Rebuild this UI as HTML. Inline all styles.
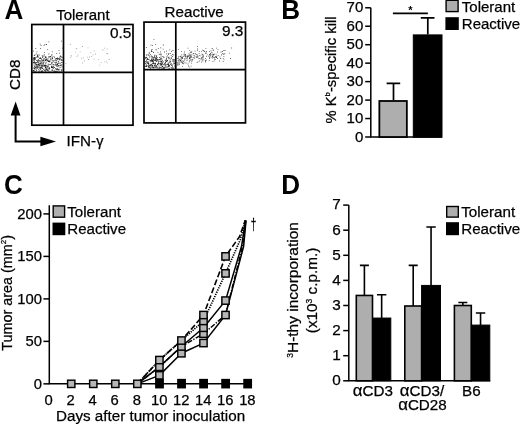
<!DOCTYPE html>
<html><head><meta charset="utf-8"><title>Figure</title>
<style>
html,body{margin:0;padding:0;background:#fff;}
body{width:520px;height:424px;overflow:hidden;}
svg{display:block;font-family:"Liberation Sans",sans-serif;fill:#000;}
.t{font-size:14.4px;stroke:#000;stroke-width:0.25px;}
.b{font-size:27px;font-weight:bold;fill:#000;}
.ln{stroke:#000;fill:none;}
.g{fill:#aeaeae;stroke:#000;}
.k{fill:#000;stroke:#000;}
</style></head><body>
<svg width="520" height="424" viewBox="0 0 520 424">
<rect x="0" y="0" width="520" height="424" fill="#fff" stroke="none"/>

<text class="b" transform="translate(4.4,19) scale(0.965,1)">A</text>
<text class="t" x="56.2" y="20.2" style="font-size:15px">Tolerant</text>
<text class="t" x="164.6" y="16.8" style="font-size:15.2px">Reactive</text>
<g class="ln" stroke-width="1.7">
<rect x="31.8" y="24.5" width="101.2" height="100.7"/>
<line x1="63.5" y1="24.5" x2="63.5" y2="125"/>
<line x1="31.8" y1="72.4" x2="133" y2="72.4"/>
<rect x="144" y="22.1" width="101.5" height="100.8"/>
<line x1="175.8" y1="22.1" x2="175.8" y2="122.9"/>
<line x1="144" y1="69.6" x2="245.5" y2="69.6"/>
</g>
<text class="t" x="109.9" y="38.3" style="font-size:15.4px">0.5</text>
<text class="t" x="222" y="35.8" style="font-size:15.4px">9.3</text>
<path d="M42.4 65.9h0.8v0.8h-0.8zM48.7 56.9h0.8v0.8h-0.8zM34.0 57.1h0.8v0.8h-0.8zM45.4 65.4h0.8v0.8h-0.8zM60.8 65.5h0.8v0.8h-0.8zM61.6 69.0h0.8v0.8h-0.8zM37.1 60.7h0.8v0.8h-0.8zM38.2 64.1h0.8v0.8h-0.8zM34.7 59.1h0.8v0.8h-0.8zM45.5 64.9h0.8v0.8h-0.8zM41.7 62.7h0.8v0.8h-0.8zM40.1 48.0h0.8v0.8h-0.8zM41.4 67.5h0.8v0.8h-0.8zM45.2 63.5h0.8v0.8h-0.8zM52.5 60.3h0.8v0.8h-0.8zM49.9 56.4h0.8v0.8h-0.8zM52.4 66.7h0.8v0.8h-0.8zM62.1 47.8h0.8v0.8h-0.8zM44.2 58.5h0.8v0.8h-0.8zM36.3 67.7h0.8v0.8h-0.8zM40.2 69.2h0.8v0.8h-0.8zM46.1 69.4h0.8v0.8h-0.8zM57.0 69.1h0.8v0.8h-0.8zM58.9 59.5h0.8v0.8h-0.8zM38.1 59.5h0.8v0.8h-0.8zM50.2 56.1h0.8v0.8h-0.8zM43.8 54.3h0.8v0.8h-0.8zM51.1 66.1h0.8v0.8h-0.8zM59.3 56.7h0.8v0.8h-0.8zM44.6 65.6h0.8v0.8h-0.8zM34.9 58.5h0.8v0.8h-0.8zM34.4 58.3h0.8v0.8h-0.8zM43.6 69.3h0.8v0.8h-0.8zM37.3 61.3h0.8v0.8h-0.8zM46.6 66.6h0.8v0.8h-0.8zM40.7 68.5h0.8v0.8h-0.8zM33.6 64.8h0.8v0.8h-0.8zM33.7 70.1h0.8v0.8h-0.8zM58.3 70.4h0.8v0.8h-0.8zM58.0 63.3h0.8v0.8h-0.8zM48.1 56.4h0.8v0.8h-0.8zM41.1 66.5h0.8v0.8h-0.8zM61.0 59.4h0.8v0.8h-0.8zM38.7 65.5h0.8v0.8h-0.8zM57.6 59.4h0.8v0.8h-0.8zM55.0 62.4h0.8v0.8h-0.8zM56.4 52.9h0.8v0.8h-0.8zM44.7 70.1h0.8v0.8h-0.8zM37.3 64.3h0.8v0.8h-0.8zM37.2 54.5h0.8v0.8h-0.8zM45.7 67.6h0.8v0.8h-0.8zM41.5 64.9h0.8v0.8h-0.8zM45.2 69.8h0.8v0.8h-0.8zM45.3 57.0h0.8v0.8h-0.8zM33.4 58.8h0.8v0.8h-0.8zM49.3 63.9h0.8v0.8h-0.8zM56.0 64.5h0.8v0.8h-0.8zM41.0 71.1h0.8v0.8h-0.8zM49.4 60.6h0.8v0.8h-0.8zM47.8 64.7h0.8v0.8h-0.8zM46.2 44.1h0.8v0.8h-0.8zM58.7 67.4h0.8v0.8h-0.8zM49.3 67.9h0.8v0.8h-0.8zM45.9 59.7h0.8v0.8h-0.8zM37.4 67.8h0.8v0.8h-0.8zM61.3 70.5h0.8v0.8h-0.8zM47.2 65.8h0.8v0.8h-0.8zM37.6 63.8h0.8v0.8h-0.8zM38.7 67.0h0.8v0.8h-0.8zM49.2 56.3h0.8v0.8h-0.8zM61.5 60.0h0.8v0.8h-0.8zM55.8 58.0h0.8v0.8h-0.8zM59.7 58.1h0.8v0.8h-0.8zM37.3 55.1h0.8v0.8h-0.8zM34.6 63.5h0.8v0.8h-0.8zM35.0 57.5h0.8v0.8h-0.8zM58.1 69.1h0.8v0.8h-0.8zM42.9 55.7h0.8v0.8h-0.8zM40.8 64.0h0.8v0.8h-0.8zM36.1 56.8h0.8v0.8h-0.8zM42.1 67.5h0.8v0.8h-0.8zM47.6 61.3h0.8v0.8h-0.8zM40.3 67.1h0.8v0.8h-0.8zM38.5 66.2h0.8v0.8h-0.8zM45.6 69.0h0.8v0.8h-0.8zM44.5 58.7h0.8v0.8h-0.8zM44.8 56.8h0.8v0.8h-0.8zM35.0 71.0h0.8v0.8h-0.8zM41.2 60.5h0.8v0.8h-0.8zM37.5 60.0h0.8v0.8h-0.8zM61.5 70.2h0.8v0.8h-0.8zM43.4 61.8h0.8v0.8h-0.8zM47.7 63.7h0.8v0.8h-0.8zM40.7 62.1h0.8v0.8h-0.8zM33.6 59.5h0.8v0.8h-0.8zM48.5 41.4h0.8v0.8h-0.8zM37.3 64.7h0.8v0.8h-0.8zM34.2 58.6h0.8v0.8h-0.8zM56.8 64.0h0.8v0.8h-0.8zM50.1 64.0h0.8v0.8h-0.8zM33.8 61.5h0.8v0.8h-0.8zM54.9 71.1h0.8v0.8h-0.8zM52.3 67.2h0.8v0.8h-0.8zM35.1 67.1h0.8v0.8h-0.8zM54.7 59.9h0.8v0.8h-0.8zM53.0 70.8h0.8v0.8h-0.8zM51.8 58.2h0.8v0.8h-0.8zM54.8 64.6h0.8v0.8h-0.8zM34.7 66.2h0.8v0.8h-0.8zM52.8 63.9h0.8v0.8h-0.8zM46.6 69.6h0.8v0.8h-0.8zM61.4 60.1h0.8v0.8h-0.8zM60.7 64.8h0.8v0.8h-0.8zM48.3 69.8h0.8v0.8h-0.8zM57.0 57.6h0.8v0.8h-0.8zM59.3 59.5h0.8v0.8h-0.8zM33.0 61.9h0.8v0.8h-0.8zM43.0 68.8h0.8v0.8h-0.8zM55.0 68.2h0.8v0.8h-0.8zM60.1 63.4h0.8v0.8h-0.8zM44.5 65.7h0.8v0.8h-0.8zM43.5 60.2h0.8v0.8h-0.8zM35.9 65.2h0.8v0.8h-0.8zM40.7 44.9h0.8v0.8h-0.8zM43.9 55.5h0.8v0.8h-0.8zM54.1 67.1h0.8v0.8h-0.8zM36.6 67.6h0.8v0.8h-0.8zM41.7 62.4h0.8v0.8h-0.8zM41.7 69.9h0.8v0.8h-0.8zM37.8 59.2h0.8v0.8h-0.8zM46.1 58.9h0.8v0.8h-0.8zM43.0 59.6h0.8v0.8h-0.8zM49.6 71.2h0.8v0.8h-0.8zM48.3 61.1h0.8v0.8h-0.8zM41.1 59.3h0.8v0.8h-0.8zM47.7 66.0h0.8v0.8h-0.8zM40.2 62.8h0.8v0.8h-0.8zM57.9 65.1h0.8v0.8h-0.8zM33.8 60.9h0.8v0.8h-0.8zM32.9 70.1h0.8v0.8h-0.8zM58.1 63.3h0.8v0.8h-0.8zM36.1 63.9h0.8v0.8h-0.8zM60.6 59.4h0.8v0.8h-0.8zM49.1 67.9h0.8v0.8h-0.8zM59.9 55.6h0.8v0.8h-0.8zM36.7 65.7h0.8v0.8h-0.8zM36.2 64.0h0.8v0.8h-0.8zM44.3 65.1h0.8v0.8h-0.8zM41.8 55.2h0.8v0.8h-0.8zM53.6 56.3h0.8v0.8h-0.8zM52.7 59.9h0.8v0.8h-0.8zM60.1 56.5h0.8v0.8h-0.8zM45.3 67.0h0.8v0.8h-0.8zM42.1 71.0h0.8v0.8h-0.8zM39.4 63.3h0.8v0.8h-0.8zM38.4 62.3h0.8v0.8h-0.8zM60.8 62.0h0.8v0.8h-0.8zM61.5 56.8h0.8v0.8h-0.8zM44.5 44.0h0.8v0.8h-0.8zM54.4 61.9h0.8v0.8h-0.8zM60.4 66.9h0.8v0.8h-0.8zM52.4 61.7h0.8v0.8h-0.8zM37.9 60.3h0.8v0.8h-0.8zM61.0 70.7h0.8v0.8h-0.8zM43.4 65.8h0.8v0.8h-0.8zM46.8 70.0h0.8v0.8h-0.8zM43.6 60.2h0.8v0.8h-0.8zM45.0 70.9h0.8v0.8h-0.8zM34.7 67.9h0.8v0.8h-0.8zM51.0 66.9h0.8v0.8h-0.8zM41.0 67.5h0.8v0.8h-0.8zM51.5 63.4h0.8v0.8h-0.8zM39.8 43.7h0.8v0.8h-0.8zM40.3 63.5h0.8v0.8h-0.8zM38.3 63.5h0.8v0.8h-0.8zM57.1 63.2h0.8v0.8h-0.8zM43.5 64.8h0.8v0.8h-0.8zM38.7 71.1h0.8v0.8h-0.8zM61.9 57.3h0.8v0.8h-0.8zM47.6 67.0h0.8v0.8h-0.8zM39.8 65.4h0.8v0.8h-0.8zM41.5 66.2h0.8v0.8h-0.8zM54.6 59.8h0.8v0.8h-0.8zM37.4 62.2h0.8v0.8h-0.8zM62.1 66.4h0.8v0.8h-0.8zM56.7 65.9h0.8v0.8h-0.8zM34.1 57.8h0.8v0.8h-0.8zM36.0 66.5h0.8v0.8h-0.8zM39.3 58.1h0.8v0.8h-0.8zM40.4 66.7h0.8v0.8h-0.8zM42.5 64.9h0.8v0.8h-0.8zM42.1 68.1h0.8v0.8h-0.8zM34.8 62.0h0.8v0.8h-0.8zM51.7 58.5h0.8v0.8h-0.8zM42.1 63.8h0.8v0.8h-0.8zM38.9 69.7h0.8v0.8h-0.8zM57.0 69.4h0.8v0.8h-0.8zM37.7 64.4h0.8v0.8h-0.8zM59.6 65.5h0.8v0.8h-0.8zM47.7 60.3h0.8v0.8h-0.8zM61.6 61.9h0.8v0.8h-0.8zM57.1 67.9h0.8v0.8h-0.8zM44.8 67.7h0.8v0.8h-0.8zM44.7 64.8h0.8v0.8h-0.8zM36.5 67.0h0.8v0.8h-0.8zM34.1 71.0h0.8v0.8h-0.8zM36.4 68.0h0.8v0.8h-0.8zM51.3 62.4h0.8v0.8h-0.8zM45.4 59.5h0.8v0.8h-0.8zM51.1 67.1h0.8v0.8h-0.8zM55.3 64.2h0.8v0.8h-0.8zM36.0 62.5h0.8v0.8h-0.8zM45.9 69.3h0.8v0.8h-0.8zM47.9 63.7h0.8v0.8h-0.8zM54.4 59.9h0.8v0.8h-0.8zM61.0 40.7h0.8v0.8h-0.8zM37.6 66.9h0.8v0.8h-0.8zM39.0 63.7h0.8v0.8h-0.8zM34.0 58.5h0.8v0.8h-0.8zM52.9 61.3h0.8v0.8h-0.8zM48.5 53.6h0.8v0.8h-0.8zM58.6 50.3h0.8v0.8h-0.8zM62.1 59.7h0.8v0.8h-0.8zM56.4 71.1h0.8v0.8h-0.8zM43.5 64.5h0.8v0.8h-0.8zM34.3 68.7h0.8v0.8h-0.8zM51.7 56.6h0.8v0.8h-0.8zM33.0 58.3h0.8v0.8h-0.8zM45.6 62.5h0.8v0.8h-0.8zM36.8 65.9h0.8v0.8h-0.8zM33.0 57.6h0.8v0.8h-0.8zM39.5 64.6h0.8v0.8h-0.8zM46.9 70.2h0.8v0.8h-0.8zM37.3 65.7h0.8v0.8h-0.8zM55.9 60.0h0.8v0.8h-0.8zM51.9 67.1h0.8v0.8h-0.8zM51.9 70.2h0.8v0.8h-0.8zM40.2 57.6h0.8v0.8h-0.8zM39.9 67.8h0.8v0.8h-0.8zM49.1 67.3h0.8v0.8h-0.8zM38.8 54.7h0.8v0.8h-0.8zM38.0 60.6h0.8v0.8h-0.8zM33.1 70.8h0.8v0.8h-0.8zM46.2 57.6h0.8v0.8h-0.8zM34.0 67.4h0.8v0.8h-0.8zM57.8 58.3h0.8v0.8h-0.8zM49.2 68.0h0.8v0.8h-0.8zM40.7 63.3h0.8v0.8h-0.8zM33.3 59.6h0.8v0.8h-0.8zM60.7 69.5h0.8v0.8h-0.8zM51.4 55.0h0.8v0.8h-0.8zM45.8 62.3h0.8v0.8h-0.8zM51.2 69.8h0.8v0.8h-0.8zM33.7 70.1h0.8v0.8h-0.8zM37.1 56.6h0.8v0.8h-0.8zM51.5 67.0h0.8v0.8h-0.8zM34.8 57.3h0.8v0.8h-0.8zM60.7 59.1h0.8v0.8h-0.8zM33.9 55.1h0.8v0.8h-0.8zM51.5 64.8h0.8v0.8h-0.8zM35.8 64.2h0.8v0.8h-0.8zM42.3 56.3h0.8v0.8h-0.8zM47.7 63.7h0.8v0.8h-0.8zM33.8 62.6h0.8v0.8h-0.8zM43.1 63.4h0.8v0.8h-0.8zM35.6 69.3h0.8v0.8h-0.8zM32.9 67.6h0.8v0.8h-0.8zM33.0 50.7h0.8v0.8h-0.8zM47.4 68.6h0.8v0.8h-0.8zM47.6 65.7h0.8v0.8h-0.8zM51.4 62.1h0.8v0.8h-0.8zM59.1 69.5h0.8v0.8h-0.8zM39.0 69.7h0.8v0.8h-0.8zM44.1 69.9h0.8v0.8h-0.8zM55.1 58.5h0.8v0.8h-0.8zM43.1 58.4h0.8v0.8h-0.8zM39.9 60.6h0.8v0.8h-0.8zM57.7 58.4h0.8v0.8h-0.8zM42.5 60.4h0.8v0.8h-0.8zM42.5 70.8h0.8v0.8h-0.8zM35.9 62.1h0.8v0.8h-0.8zM56.3 64.4h0.8v0.8h-0.8zM38.7 65.1h0.8v0.8h-0.8zM33.9 68.0h0.8v0.8h-0.8zM47.6 66.3h0.8v0.8h-0.8zM37.1 55.6h0.8v0.8h-0.8zM45.5 60.5h0.8v0.8h-0.8zM45.3 67.0h0.8v0.8h-0.8zM55.7 60.8h0.8v0.8h-0.8zM46.2 65.5h0.8v0.8h-0.8zM45.2 57.3h0.8v0.8h-0.8zM51.4 62.4h0.8v0.8h-0.8zM38.3 69.2h0.8v0.8h-0.8zM61.6 64.3h0.8v0.8h-0.8zM55.9 60.0h0.8v0.8h-0.8zM35.9 53.5h0.8v0.8h-0.8zM51.7 66.5h0.8v0.8h-0.8zM45.0 66.9h0.8v0.8h-0.8zM55.3 71.0h0.8v0.8h-0.8zM34.6 62.1h0.8v0.8h-0.8zM45.2 66.6h0.8v0.8h-0.8zM40.7 67.3h0.8v0.8h-0.8zM48.4 68.2h0.8v0.8h-0.8zM39.1 67.8h0.8v0.8h-0.8zM51.5 54.3h0.8v0.8h-0.8zM39.5 61.3h0.8v0.8h-0.8zM56.9 58.1h0.8v0.8h-0.8zM49.0 68.7h0.8v0.8h-0.8zM57.9 61.7h0.8v0.8h-0.8zM45.4 56.0h0.8v0.8h-0.8zM41.2 60.6h0.8v0.8h-0.8zM56.0 68.6h0.8v0.8h-0.8zM33.3 70.5h0.8v0.8h-0.8zM40.3 58.2h0.8v0.8h-0.8zM56.2 69.5h0.8v0.8h-0.8zM56.1 65.5h0.8v0.8h-0.8zM54.7 69.4h0.8v0.8h-0.8zM40.7 58.1h0.8v0.8h-0.8zM34.6 54.5h0.8v0.8h-0.8zM47.3 49.0h0.8v0.8h-0.8zM57.6 65.6h0.8v0.8h-0.8zM35.1 62.7h0.8v0.8h-0.8zM33.7 60.3h0.8v0.8h-0.8zM42.9 62.5h0.8v0.8h-0.8zM55.6 62.6h0.8v0.8h-0.8zM49.2 61.5h0.8v0.8h-0.8zM57.2 63.7h0.8v0.8h-0.8zM47.8 59.7h0.8v0.8h-0.8zM42.2 64.9h0.8v0.8h-0.8zM48.9 60.6h0.8v0.8h-0.8zM38.5 54.4h0.8v0.8h-0.8zM52.2 57.9h0.8v0.8h-0.8zM51.3 62.7h0.8v0.8h-0.8zM52.9 66.1h0.8v0.8h-0.8zM55.3 58.8h0.8v0.8h-0.8zM56.0 62.0h0.8v0.8h-0.8zM41.8 60.8h0.8v0.8h-0.8zM51.8 57.2h0.8v0.8h-0.8zM36.4 66.2h0.8v0.8h-0.8zM59.9 56.2h0.8v0.8h-0.8zM50.3 58.2h0.8v0.8h-0.8zM35.9 69.6h0.8v0.8h-0.8zM37.4 56.1h0.8v0.8h-0.8zM36.5 51.5h0.8v0.8h-0.8zM33.4 59.0h0.8v0.8h-0.8zM53.9 70.6h0.8v0.8h-0.8zM40.4 70.8h0.8v0.8h-0.8zM52.0 69.5h0.8v0.8h-0.8zM42.0 59.7h0.8v0.8h-0.8zM34.7 64.7h0.8v0.8h-0.8zM52.8 68.1h0.8v0.8h-0.8zM51.9 51.5h0.8v0.8h-0.8zM44.2 52.2h0.8v0.8h-0.8zM41.5 70.8h0.8v0.8h-0.8zM57.3 64.4h0.8v0.8h-0.8zM45.5 58.7h0.8v0.8h-0.8zM59.2 59.0h0.8v0.8h-0.8zM32.9 62.4h0.8v0.8h-0.8zM58.4 65.5h0.8v0.8h-0.8zM57.9 61.0h0.8v0.8h-0.8zM35.4 47.9h0.8v0.8h-0.8zM38.8 63.6h0.8v0.8h-0.8zM52.8 67.7h0.8v0.8h-0.8zM40.4 67.9h0.8v0.8h-0.8zM56.6 58.9h0.8v0.8h-0.8zM49.9 60.7h0.8v0.8h-0.8zM50.2 58.9h0.8v0.8h-0.8zM53.5 64.6h0.8v0.8h-0.8zM43.9 65.6h0.8v0.8h-0.8zM37.5 62.0h0.8v0.8h-0.8zM45.4 67.5h0.8v0.8h-0.8zM57.0 71.1h0.8v0.8h-0.8zM38.2 56.8h0.8v0.8h-0.8zM59.7 65.1h0.8v0.8h-0.8zM36.4 70.5h0.8v0.8h-0.8zM61.0 56.4h0.8v0.8h-0.8zM39.4 59.9h0.8v0.8h-0.8zM34.5 67.5h0.8v0.8h-0.8zM36.0 59.9h0.8v0.8h-0.8zM47.1 59.6h0.8v0.8h-0.8zM52.8 66.9h0.8v0.8h-0.8zM34.0 66.3h0.8v0.8h-0.8zM59.0 62.8h0.8v0.8h-0.8zM46.2 68.5h0.8v0.8h-0.8zM51.4 59.4h0.8v0.8h-0.8zM53.9 56.9h0.8v0.8h-0.8zM45.0 60.1h0.8v0.8h-0.8zM42.7 63.5h0.8v0.8h-0.8zM59.5 70.9h0.8v0.8h-0.8zM59.2 52.8h0.8v0.8h-0.8zM46.9 59.9h0.8v0.8h-0.8zM43.6 45.0h0.8v0.8h-0.8zM41.4 70.9h0.8v0.8h-0.8zM54.3 70.9h0.8v0.8h-0.8zM56.6 58.1h0.8v0.8h-0.8zM39.3 59.9h0.8v0.8h-0.8zM38.2 69.4h0.8v0.8h-0.8zM35.5 63.8h0.8v0.8h-0.8zM41.0 65.3h0.8v0.8h-0.8zM44.9 67.1h0.8v0.8h-0.8zM47.4 69.8h0.8v0.8h-0.8zM43.7 61.6h0.8v0.8h-0.8zM33.0 58.1h0.8v0.8h-0.8zM42.3 57.1h0.8v0.8h-0.8zM58.6 58.2h0.8v0.8h-0.8zM39.5 57.6h0.8v0.8h-0.8zM38.6 65.1h0.8v0.8h-0.8zM48.3 70.7h0.8v0.8h-0.8zM58.5 65.5h0.8v0.8h-0.8zM47.6 57.9h0.8v0.8h-0.8z" fill="#222" stroke="none"/>
<path d="M70.7 55.2h0.8v0.8h-0.8zM91.1 56.3h0.8v0.8h-0.8zM90.3 52.3h0.8v0.8h-0.8zM98.1 59.3h0.8v0.8h-0.8zM106.7 62.5h0.8v0.8h-0.8zM82.0 46.1h0.8v0.8h-0.8zM88.2 59.1h0.8v0.8h-0.8zM82.3 62.6h0.8v0.8h-0.8zM79.7 51.4h0.8v0.8h-0.8zM75.3 51.8h0.8v0.8h-0.8zM108.7 59.1h0.8v0.8h-0.8zM100.7 62.3h0.8v0.8h-0.8zM102.6 49.7h0.8v0.8h-0.8zM106.5 53.1h0.8v0.8h-0.8zM75.7 48.3h0.8v0.8h-0.8zM80.9 57.8h0.8v0.8h-0.8zM88.4 59.3h0.8v0.8h-0.8zM87.2 56.7h0.8v0.8h-0.8zM65.4 63.0h0.8v0.8h-0.8zM99.4 64.7h0.8v0.8h-0.8zM106.7 48.4h0.8v0.8h-0.8zM104.3 47.7h0.8v0.8h-0.8zM104.3 61.5h0.8v0.8h-0.8zM76.5 56.0h0.8v0.8h-0.8zM95.0 53.6h0.8v0.8h-0.8zM106.1 60.7h0.8v0.8h-0.8zM92.5 54.5h0.8v0.8h-0.8zM84.0 60.6h0.8v0.8h-0.8zM107.3 53.5h0.8v0.8h-0.8zM93.6 58.7h0.8v0.8h-0.8zM69.9 44.1h0.8v0.8h-0.8zM87.6 47.5h0.8v0.8h-0.8zM76.6 48.5h0.8v0.8h-0.8zM71.2 55.8h0.8v0.8h-0.8zM70.1 57.3h0.8v0.8h-0.8zM82.8 57.6h0.8v0.8h-0.8zM77.5 54.6h0.8v0.8h-0.8zM89.1 56.6h0.8v0.8h-0.8zM102.3 49.5h0.8v0.8h-0.8zM93.8 50.4h0.8v0.8h-0.8z" fill="#999" stroke="none"/>
<path d="M150.9 55.4h0.8v0.8h-0.8zM159.0 59.0h0.8v0.8h-0.8zM160.3 63.1h0.8v0.8h-0.8zM155.5 65.0h0.8v0.8h-0.8zM161.6 61.5h0.8v0.8h-0.8zM158.1 60.7h0.8v0.8h-0.8zM167.1 60.1h0.8v0.8h-0.8zM166.2 53.4h0.8v0.8h-0.8zM167.9 53.0h0.8v0.8h-0.8zM163.1 61.5h0.8v0.8h-0.8zM166.6 60.8h0.8v0.8h-0.8zM156.4 65.6h0.8v0.8h-0.8zM159.9 59.1h0.8v0.8h-0.8zM154.0 63.0h0.8v0.8h-0.8zM147.5 59.1h0.8v0.8h-0.8zM145.2 62.9h0.8v0.8h-0.8zM172.5 50.1h0.8v0.8h-0.8zM174.8 52.3h0.8v0.8h-0.8zM155.6 66.5h0.8v0.8h-0.8zM173.3 63.5h0.8v0.8h-0.8zM156.9 67.4h0.8v0.8h-0.8zM150.0 67.9h0.8v0.8h-0.8zM160.3 66.9h0.8v0.8h-0.8zM157.5 59.5h0.8v0.8h-0.8zM160.0 58.2h0.8v0.8h-0.8zM163.0 68.1h0.8v0.8h-0.8zM146.2 66.1h0.8v0.8h-0.8zM145.0 66.3h0.8v0.8h-0.8zM164.9 62.1h0.8v0.8h-0.8zM152.9 59.5h0.8v0.8h-0.8zM174.8 63.7h0.8v0.8h-0.8zM167.7 57.2h0.8v0.8h-0.8zM160.6 65.4h0.8v0.8h-0.8zM154.6 64.3h0.8v0.8h-0.8zM147.9 63.1h0.8v0.8h-0.8zM155.4 65.5h0.8v0.8h-0.8zM162.4 65.9h0.8v0.8h-0.8zM154.0 56.3h0.8v0.8h-0.8zM152.2 64.8h0.8v0.8h-0.8zM154.2 65.1h0.8v0.8h-0.8zM168.7 58.1h0.8v0.8h-0.8zM150.5 64.8h0.8v0.8h-0.8zM160.9 60.9h0.8v0.8h-0.8zM148.6 55.2h0.8v0.8h-0.8zM152.2 59.5h0.8v0.8h-0.8zM145.9 64.9h0.8v0.8h-0.8zM147.7 66.2h0.8v0.8h-0.8zM158.2 63.1h0.8v0.8h-0.8zM149.7 64.8h0.8v0.8h-0.8zM173.7 67.6h0.8v0.8h-0.8zM151.7 57.0h0.8v0.8h-0.8zM171.9 56.1h0.8v0.8h-0.8zM152.3 63.2h0.8v0.8h-0.8zM160.3 47.5h0.8v0.8h-0.8zM168.1 64.0h0.8v0.8h-0.8zM154.2 57.0h0.8v0.8h-0.8zM170.4 64.1h0.8v0.8h-0.8zM161.8 62.1h0.8v0.8h-0.8zM146.9 58.8h0.8v0.8h-0.8zM168.1 64.6h0.8v0.8h-0.8zM145.8 63.9h0.8v0.8h-0.8zM155.4 59.4h0.8v0.8h-0.8zM170.3 63.7h0.8v0.8h-0.8zM148.4 54.5h0.8v0.8h-0.8zM166.3 56.5h0.8v0.8h-0.8zM150.8 60.6h0.8v0.8h-0.8zM154.2 59.6h0.8v0.8h-0.8zM166.4 61.3h0.8v0.8h-0.8zM155.4 66.2h0.8v0.8h-0.8zM153.5 66.4h0.8v0.8h-0.8zM146.3 57.4h0.8v0.8h-0.8zM151.2 50.0h0.8v0.8h-0.8zM147.5 54.5h0.8v0.8h-0.8zM153.3 67.5h0.8v0.8h-0.8zM148.7 52.5h0.8v0.8h-0.8zM164.0 68.2h0.8v0.8h-0.8zM157.2 59.8h0.8v0.8h-0.8zM166.1 64.5h0.8v0.8h-0.8zM152.2 45.0h0.8v0.8h-0.8zM153.9 59.9h0.8v0.8h-0.8zM161.8 65.9h0.8v0.8h-0.8zM167.7 64.1h0.8v0.8h-0.8zM158.7 65.7h0.8v0.8h-0.8zM155.7 56.7h0.8v0.8h-0.8zM150.8 63.7h0.8v0.8h-0.8zM148.3 61.7h0.8v0.8h-0.8zM161.8 62.0h0.8v0.8h-0.8zM150.6 44.7h0.8v0.8h-0.8zM163.7 67.0h0.8v0.8h-0.8zM152.4 57.7h0.8v0.8h-0.8zM168.1 66.3h0.8v0.8h-0.8zM170.3 61.8h0.8v0.8h-0.8zM168.4 67.7h0.8v0.8h-0.8zM169.7 60.5h0.8v0.8h-0.8zM156.0 58.9h0.8v0.8h-0.8zM146.1 54.7h0.8v0.8h-0.8zM172.1 54.2h0.8v0.8h-0.8zM159.9 59.7h0.8v0.8h-0.8zM147.3 62.3h0.8v0.8h-0.8zM147.6 61.4h0.8v0.8h-0.8zM168.5 58.5h0.8v0.8h-0.8zM164.7 59.8h0.8v0.8h-0.8zM149.8 61.4h0.8v0.8h-0.8zM155.3 57.0h0.8v0.8h-0.8zM146.7 61.4h0.8v0.8h-0.8zM153.9 66.8h0.8v0.8h-0.8zM150.6 64.0h0.8v0.8h-0.8zM156.1 66.8h0.8v0.8h-0.8zM160.8 64.1h0.8v0.8h-0.8zM171.6 65.1h0.8v0.8h-0.8zM170.8 57.2h0.8v0.8h-0.8zM152.4 61.1h0.8v0.8h-0.8zM148.3 65.7h0.8v0.8h-0.8zM147.3 58.1h0.8v0.8h-0.8zM161.4 63.2h0.8v0.8h-0.8zM148.3 67.3h0.8v0.8h-0.8zM156.7 67.7h0.8v0.8h-0.8zM168.1 65.5h0.8v0.8h-0.8zM152.0 56.2h0.8v0.8h-0.8zM151.3 64.6h0.8v0.8h-0.8zM161.8 63.8h0.8v0.8h-0.8zM155.1 63.6h0.8v0.8h-0.8zM173.3 54.4h0.8v0.8h-0.8zM161.4 64.3h0.8v0.8h-0.8zM172.7 68.0h0.8v0.8h-0.8zM170.0 61.3h0.8v0.8h-0.8zM145.5 65.8h0.8v0.8h-0.8zM161.5 64.4h0.8v0.8h-0.8zM149.2 52.6h0.8v0.8h-0.8zM173.4 60.2h0.8v0.8h-0.8zM160.0 64.4h0.8v0.8h-0.8zM146.0 66.0h0.8v0.8h-0.8zM156.7 57.1h0.8v0.8h-0.8zM171.1 51.2h0.8v0.8h-0.8zM154.8 66.9h0.8v0.8h-0.8zM146.2 60.4h0.8v0.8h-0.8zM162.2 60.3h0.8v0.8h-0.8zM162.3 56.3h0.8v0.8h-0.8zM153.1 62.1h0.8v0.8h-0.8zM145.9 59.5h0.8v0.8h-0.8zM171.1 58.2h0.8v0.8h-0.8zM153.3 57.1h0.8v0.8h-0.8zM160.2 51.4h0.8v0.8h-0.8zM161.4 59.4h0.8v0.8h-0.8zM174.6 64.7h0.8v0.8h-0.8zM152.2 60.3h0.8v0.8h-0.8zM145.1 57.3h0.8v0.8h-0.8zM154.0 56.8h0.8v0.8h-0.8zM154.2 64.9h0.8v0.8h-0.8zM147.3 63.1h0.8v0.8h-0.8zM155.6 49.2h0.8v0.8h-0.8zM159.4 59.0h0.8v0.8h-0.8zM152.6 58.0h0.8v0.8h-0.8zM166.0 60.9h0.8v0.8h-0.8zM163.0 64.0h0.8v0.8h-0.8zM173.8 62.6h0.8v0.8h-0.8zM169.2 65.1h0.8v0.8h-0.8zM161.0 63.4h0.8v0.8h-0.8zM164.4 64.1h0.8v0.8h-0.8zM157.3 63.6h0.8v0.8h-0.8zM159.7 59.6h0.8v0.8h-0.8zM158.8 67.3h0.8v0.8h-0.8zM154.8 57.9h0.8v0.8h-0.8zM167.9 65.9h0.8v0.8h-0.8zM161.1 53.7h0.8v0.8h-0.8zM154.8 63.0h0.8v0.8h-0.8zM174.2 59.3h0.8v0.8h-0.8zM160.6 67.2h0.8v0.8h-0.8zM164.6 67.2h0.8v0.8h-0.8zM174.6 65.2h0.8v0.8h-0.8zM145.7 56.7h0.8v0.8h-0.8zM161.6 67.5h0.8v0.8h-0.8zM149.4 65.0h0.8v0.8h-0.8zM149.8 65.5h0.8v0.8h-0.8zM158.7 67.0h0.8v0.8h-0.8zM166.9 63.9h0.8v0.8h-0.8zM170.8 62.9h0.8v0.8h-0.8zM151.6 59.2h0.8v0.8h-0.8zM151.8 65.3h0.8v0.8h-0.8zM153.9 65.4h0.8v0.8h-0.8zM170.8 54.9h0.8v0.8h-0.8zM167.4 66.3h0.8v0.8h-0.8zM171.6 64.3h0.8v0.8h-0.8zM158.5 59.0h0.8v0.8h-0.8zM151.2 56.5h0.8v0.8h-0.8zM145.2 58.2h0.8v0.8h-0.8zM150.0 54.3h0.8v0.8h-0.8zM145.9 65.7h0.8v0.8h-0.8zM146.0 47.0h0.8v0.8h-0.8zM154.4 59.4h0.8v0.8h-0.8zM157.8 64.4h0.8v0.8h-0.8zM167.0 59.9h0.8v0.8h-0.8zM155.5 59.7h0.8v0.8h-0.8zM153.1 59.2h0.8v0.8h-0.8zM146.2 57.0h0.8v0.8h-0.8zM145.2 60.9h0.8v0.8h-0.8zM166.4 59.9h0.8v0.8h-0.8zM174.1 60.7h0.8v0.8h-0.8zM145.1 61.0h0.8v0.8h-0.8zM156.2 58.4h0.8v0.8h-0.8zM146.4 61.4h0.8v0.8h-0.8zM154.4 54.7h0.8v0.8h-0.8zM151.9 67.3h0.8v0.8h-0.8zM156.3 58.1h0.8v0.8h-0.8zM165.2 63.7h0.8v0.8h-0.8zM151.6 60.2h0.8v0.8h-0.8zM172.2 65.9h0.8v0.8h-0.8zM151.5 67.3h0.8v0.8h-0.8zM160.6 55.6h0.8v0.8h-0.8zM152.1 66.0h0.8v0.8h-0.8zM164.1 51.6h0.8v0.8h-0.8zM156.3 55.2h0.8v0.8h-0.8zM148.6 59.1h0.8v0.8h-0.8zM155.6 56.8h0.8v0.8h-0.8zM156.8 66.7h0.8v0.8h-0.8zM158.4 62.9h0.8v0.8h-0.8zM165.3 62.4h0.8v0.8h-0.8zM156.0 60.6h0.8v0.8h-0.8zM150.9 51.3h0.8v0.8h-0.8zM150.3 66.8h0.8v0.8h-0.8zM151.0 59.0h0.8v0.8h-0.8zM163.4 56.5h0.8v0.8h-0.8zM155.9 65.2h0.8v0.8h-0.8zM169.2 60.7h0.8v0.8h-0.8zM156.1 57.9h0.8v0.8h-0.8zM147.0 58.9h0.8v0.8h-0.8zM171.9 59.4h0.8v0.8h-0.8zM162.7 48.7h0.8v0.8h-0.8zM159.1 63.5h0.8v0.8h-0.8zM159.6 61.1h0.8v0.8h-0.8zM157.0 64.3h0.8v0.8h-0.8zM168.0 54.2h0.8v0.8h-0.8zM151.5 66.0h0.8v0.8h-0.8zM147.5 65.0h0.8v0.8h-0.8zM166.2 66.8h0.8v0.8h-0.8zM169.4 49.5h0.8v0.8h-0.8zM153.1 59.8h0.8v0.8h-0.8zM170.7 67.0h0.8v0.8h-0.8zM157.5 59.7h0.8v0.8h-0.8zM169.0 67.9h0.8v0.8h-0.8zM161.0 61.7h0.8v0.8h-0.8zM162.4 65.8h0.8v0.8h-0.8zM172.5 61.2h0.8v0.8h-0.8zM154.3 56.8h0.8v0.8h-0.8zM153.1 60.9h0.8v0.8h-0.8zM158.2 61.9h0.8v0.8h-0.8zM157.9 48.3h0.8v0.8h-0.8zM162.8 67.3h0.8v0.8h-0.8zM168.9 61.9h0.8v0.8h-0.8zM149.3 66.9h0.8v0.8h-0.8zM168.4 63.5h0.8v0.8h-0.8zM164.7 67.1h0.8v0.8h-0.8zM149.5 64.5h0.8v0.8h-0.8zM170.0 58.8h0.8v0.8h-0.8zM154.5 55.1h0.8v0.8h-0.8zM156.6 60.6h0.8v0.8h-0.8zM151.6 49.1h0.8v0.8h-0.8zM158.8 53.9h0.8v0.8h-0.8zM173.1 61.4h0.8v0.8h-0.8zM155.3 44.0h0.8v0.8h-0.8zM159.4 67.7h0.8v0.8h-0.8zM161.1 57.7h0.8v0.8h-0.8zM171.7 64.8h0.8v0.8h-0.8zM162.9 44.6h0.8v0.8h-0.8zM173.2 59.2h0.8v0.8h-0.8zM152.3 65.3h0.8v0.8h-0.8zM168.5 56.8h0.8v0.8h-0.8zM147.8 64.9h0.8v0.8h-0.8zM145.9 54.5h0.8v0.8h-0.8zM164.3 63.1h0.8v0.8h-0.8zM154.8 62.7h0.8v0.8h-0.8zM159.3 57.1h0.8v0.8h-0.8zM148.4 63.1h0.8v0.8h-0.8zM149.8 67.0h0.8v0.8h-0.8zM155.9 60.9h0.8v0.8h-0.8zM148.7 66.6h0.8v0.8h-0.8zM171.6 67.5h0.8v0.8h-0.8zM149.5 56.4h0.8v0.8h-0.8zM160.4 66.9h0.8v0.8h-0.8zM162.3 63.3h0.8v0.8h-0.8zM166.2 59.0h0.8v0.8h-0.8zM169.3 65.9h0.8v0.8h-0.8zM172.5 67.5h0.8v0.8h-0.8zM157.1 59.0h0.8v0.8h-0.8zM165.3 60.2h0.8v0.8h-0.8zM150.8 60.0h0.8v0.8h-0.8zM174.8 61.2h0.8v0.8h-0.8zM159.8 53.5h0.8v0.8h-0.8zM150.9 58.6h0.8v0.8h-0.8zM168.5 64.8h0.8v0.8h-0.8zM149.8 60.1h0.8v0.8h-0.8zM167.2 63.7h0.8v0.8h-0.8zM148.4 63.2h0.8v0.8h-0.8zM152.5 67.4h0.8v0.8h-0.8zM152.0 61.3h0.8v0.8h-0.8zM157.1 64.0h0.8v0.8h-0.8zM155.1 58.6h0.8v0.8h-0.8zM159.6 57.3h0.8v0.8h-0.8zM157.5 52.2h0.8v0.8h-0.8zM155.0 60.3h0.8v0.8h-0.8zM163.5 57.1h0.8v0.8h-0.8zM165.9 58.1h0.8v0.8h-0.8zM165.4 66.0h0.8v0.8h-0.8zM153.0 52.1h0.8v0.8h-0.8zM151.6 51.1h0.8v0.8h-0.8zM159.9 54.0h0.8v0.8h-0.8zM174.6 66.1h0.8v0.8h-0.8zM158.5 68.2h0.8v0.8h-0.8zM161.5 58.4h0.8v0.8h-0.8zM156.2 56.0h0.8v0.8h-0.8zM155.8 61.3h0.8v0.8h-0.8zM165.2 60.7h0.8v0.8h-0.8zM155.8 49.5h0.8v0.8h-0.8zM161.6 61.2h0.8v0.8h-0.8zM171.6 68.2h0.8v0.8h-0.8zM149.0 65.4h0.8v0.8h-0.8zM149.2 65.3h0.8v0.8h-0.8zM167.3 66.7h0.8v0.8h-0.8zM167.8 62.6h0.8v0.8h-0.8zM174.2 62.9h0.8v0.8h-0.8zM153.2 63.0h0.8v0.8h-0.8zM168.7 57.7h0.8v0.8h-0.8zM171.2 65.0h0.8v0.8h-0.8zM154.3 59.6h0.8v0.8h-0.8zM150.8 61.3h0.8v0.8h-0.8zM152.7 60.7h0.8v0.8h-0.8zM152.9 67.1h0.8v0.8h-0.8zM154.3 65.2h0.8v0.8h-0.8zM161.7 68.1h0.8v0.8h-0.8zM172.4 59.8h0.8v0.8h-0.8zM163.8 65.4h0.8v0.8h-0.8zM169.7 53.1h0.8v0.8h-0.8zM152.2 62.7h0.8v0.8h-0.8zM148.2 63.9h0.8v0.8h-0.8zM155.4 66.6h0.8v0.8h-0.8zM148.9 56.8h0.8v0.8h-0.8zM160.0 61.4h0.8v0.8h-0.8zM162.1 66.3h0.8v0.8h-0.8zM167.2 55.4h0.8v0.8h-0.8zM166.0 50.8h0.8v0.8h-0.8zM153.2 63.4h0.8v0.8h-0.8zM153.1 58.7h0.8v0.8h-0.8zM165.2 65.0h0.8v0.8h-0.8zM147.1 58.8h0.8v0.8h-0.8zM145.0 62.8h0.8v0.8h-0.8zM158.3 61.8h0.8v0.8h-0.8zM146.1 62.4h0.8v0.8h-0.8zM155.1 62.9h0.8v0.8h-0.8zM161.0 65.5h0.8v0.8h-0.8zM160.0 63.4h0.8v0.8h-0.8z" fill="#222" stroke="none"/>
<path d="M211.5 54.5h0.8v0.8h-0.8zM198.8 50.9h0.8v0.8h-0.8zM205.0 53.2h0.8v0.8h-0.8zM224.5 53.5h0.8v0.8h-0.8zM203.1 58.7h0.8v0.8h-0.8zM214.3 58.5h0.8v0.8h-0.8zM201.8 54.4h0.8v0.8h-0.8zM199.0 58.3h0.8v0.8h-0.8zM192.3 59.1h0.8v0.8h-0.8zM205.2 61.8h0.8v0.8h-0.8zM200.9 57.9h0.8v0.8h-0.8zM187.6 63.6h0.8v0.8h-0.8zM191.4 51.2h0.8v0.8h-0.8zM229.0 52.7h0.8v0.8h-0.8zM188.1 65.6h0.8v0.8h-0.8zM216.5 55.8h0.8v0.8h-0.8zM191.3 55.6h0.8v0.8h-0.8zM211.6 57.2h0.8v0.8h-0.8zM179.2 61.8h0.8v0.8h-0.8zM201.8 59.2h0.8v0.8h-0.8zM182.4 60.8h0.8v0.8h-0.8zM219.6 56.5h0.8v0.8h-0.8zM231.3 47.6h0.8v0.8h-0.8zM183.9 59.7h0.8v0.8h-0.8zM182.8 54.5h0.8v0.8h-0.8zM188.3 55.7h0.8v0.8h-0.8zM190.7 65.8h0.8v0.8h-0.8zM215.9 56.4h0.8v0.8h-0.8zM217.1 58.1h0.8v0.8h-0.8zM184.2 51.4h0.8v0.8h-0.8zM177.5 62.0h0.8v0.8h-0.8zM197.6 61.4h0.8v0.8h-0.8zM177.3 64.3h0.8v0.8h-0.8zM202.3 49.7h0.8v0.8h-0.8zM179.2 63.9h0.8v0.8h-0.8zM180.7 56.4h0.8v0.8h-0.8zM194.6 50.7h0.8v0.8h-0.8zM203.4 49.9h0.8v0.8h-0.8zM212.0 56.1h0.8v0.8h-0.8zM182.5 61.9h0.8v0.8h-0.8zM209.3 57.3h0.8v0.8h-0.8zM201.9 57.8h0.8v0.8h-0.8zM209.0 51.3h0.8v0.8h-0.8zM201.0 51.2h0.8v0.8h-0.8zM180.5 59.4h0.8v0.8h-0.8zM202.7 54.5h0.8v0.8h-0.8zM198.8 53.2h0.8v0.8h-0.8zM190.0 51.7h0.8v0.8h-0.8zM212.5 53.7h0.8v0.8h-0.8zM184.6 54.2h0.8v0.8h-0.8zM180.3 60.6h0.8v0.8h-0.8zM198.4 57.9h0.8v0.8h-0.8zM211.7 48.1h0.8v0.8h-0.8zM182.0 66.3h0.8v0.8h-0.8zM178.9 59.1h0.8v0.8h-0.8zM179.5 60.5h0.8v0.8h-0.8zM188.9 66.7h0.8v0.8h-0.8zM213.8 60.4h0.8v0.8h-0.8zM185.2 55.8h0.8v0.8h-0.8zM177.8 60.7h0.8v0.8h-0.8zM187.1 55.9h0.8v0.8h-0.8zM205.0 61.2h0.8v0.8h-0.8zM223.6 59.4h0.8v0.8h-0.8zM222.0 51.1h0.8v0.8h-0.8zM179.8 56.2h0.8v0.8h-0.8zM206.8 54.5h0.8v0.8h-0.8zM177.2 64.8h0.8v0.8h-0.8zM222.4 53.1h0.8v0.8h-0.8zM212.6 55.8h0.8v0.8h-0.8zM188.2 55.8h0.8v0.8h-0.8zM196.2 57.2h0.8v0.8h-0.8zM182.0 58.2h0.8v0.8h-0.8zM197.0 48.6h0.8v0.8h-0.8zM193.4 56.9h0.8v0.8h-0.8zM210.2 53.1h0.8v0.8h-0.8zM177.2 62.7h0.8v0.8h-0.8zM214.9 56.1h0.8v0.8h-0.8zM205.4 51.7h0.8v0.8h-0.8zM210.4 56.5h0.8v0.8h-0.8zM212.5 60.9h0.8v0.8h-0.8zM220.6 51.8h0.8v0.8h-0.8zM222.8 61.0h0.8v0.8h-0.8zM223.5 56.2h0.8v0.8h-0.8zM193.3 54.7h0.8v0.8h-0.8zM182.0 62.0h0.8v0.8h-0.8zM201.2 61.7h0.8v0.8h-0.8zM222.8 54.3h0.8v0.8h-0.8zM190.5 56.5h0.8v0.8h-0.8zM189.5 57.8h0.8v0.8h-0.8zM219.2 60.6h0.8v0.8h-0.8zM206.1 51.0h0.8v0.8h-0.8zM182.6 60.5h0.8v0.8h-0.8zM211.3 52.2h0.8v0.8h-0.8zM197.0 46.2h0.8v0.8h-0.8zM185.7 55.7h0.8v0.8h-0.8zM206.0 52.7h0.8v0.8h-0.8zM188.5 53.5h0.8v0.8h-0.8zM192.6 57.4h0.8v0.8h-0.8zM191.1 56.7h0.8v0.8h-0.8zM216.2 57.1h0.8v0.8h-0.8zM214.6 59.1h0.8v0.8h-0.8zM217.8 55.2h0.8v0.8h-0.8zM178.3 63.5h0.8v0.8h-0.8zM191.1 62.7h0.8v0.8h-0.8zM209.3 54.1h0.8v0.8h-0.8zM212.9 50.2h0.8v0.8h-0.8zM193.5 53.2h0.8v0.8h-0.8zM180.3 60.3h0.8v0.8h-0.8zM196.7 56.6h0.8v0.8h-0.8zM184.6 61.9h0.8v0.8h-0.8zM191.8 60.0h0.8v0.8h-0.8zM182.3 57.7h0.8v0.8h-0.8zM214.7 59.1h0.8v0.8h-0.8zM223.8 53.5h0.8v0.8h-0.8zM177.3 58.0h0.8v0.8h-0.8zM187.2 59.7h0.8v0.8h-0.8zM213.1 54.0h0.8v0.8h-0.8zM209.1 54.1h0.8v0.8h-0.8zM184.7 56.2h0.8v0.8h-0.8zM182.1 63.0h0.8v0.8h-0.8zM212.7 54.9h0.8v0.8h-0.8zM208.1 55.7h0.8v0.8h-0.8zM177.6 62.2h0.8v0.8h-0.8zM196.9 54.4h0.8v0.8h-0.8zM190.5 56.9h0.8v0.8h-0.8zM197.7 56.5h0.8v0.8h-0.8zM187.5 54.9h0.8v0.8h-0.8zM188.8 54.6h0.8v0.8h-0.8zM212.1 57.8h0.8v0.8h-0.8zM202.7 56.7h0.8v0.8h-0.8zM213.3 54.3h0.8v0.8h-0.8zM178.4 58.6h0.8v0.8h-0.8zM202.1 56.6h0.8v0.8h-0.8zM183.3 56.3h0.8v0.8h-0.8zM189.5 57.7h0.8v0.8h-0.8zM201.0 57.0h0.8v0.8h-0.8zM196.7 57.3h0.8v0.8h-0.8zM202.6 60.5h0.8v0.8h-0.8zM180.7 57.6h0.8v0.8h-0.8zM189.0 57.2h0.8v0.8h-0.8zM224.7 49.9h0.8v0.8h-0.8zM182.9 63.5h0.8v0.8h-0.8zM190.0 55.6h0.8v0.8h-0.8zM186.2 59.8h0.8v0.8h-0.8zM181.4 57.3h0.8v0.8h-0.8zM191.4 61.0h0.8v0.8h-0.8zM201.7 53.8h0.8v0.8h-0.8zM194.3 58.2h0.8v0.8h-0.8zM196.7 62.0h0.8v0.8h-0.8zM183.4 63.3h0.8v0.8h-0.8zM186.7 57.4h0.8v0.8h-0.8zM177.4 58.1h0.8v0.8h-0.8zM178.1 56.6h0.8v0.8h-0.8zM202.7 55.5h0.8v0.8h-0.8zM189.7 52.4h0.8v0.8h-0.8zM204.2 51.1h0.8v0.8h-0.8zM184.8 54.8h0.8v0.8h-0.8zM221.0 54.6h0.8v0.8h-0.8zM197.0 48.4h0.8v0.8h-0.8zM189.3 50.3h0.8v0.8h-0.8zM181.3 54.4h0.8v0.8h-0.8zM188.7 61.7h0.8v0.8h-0.8zM184.5 59.4h0.8v0.8h-0.8zM187.3 57.7h0.8v0.8h-0.8zM203.0 50.5h0.8v0.8h-0.8zM204.9 60.1h0.8v0.8h-0.8zM188.7 56.0h0.8v0.8h-0.8zM189.2 60.8h0.8v0.8h-0.8zM199.2 55.2h0.8v0.8h-0.8zM195.7 56.0h0.8v0.8h-0.8zM197.4 55.5h0.8v0.8h-0.8zM185.7 58.2h0.8v0.8h-0.8zM210.2 55.3h0.8v0.8h-0.8zM191.0 52.2h0.8v0.8h-0.8zM190.0 58.7h0.8v0.8h-0.8zM183.4 60.9h0.8v0.8h-0.8zM184.3 57.9h0.8v0.8h-0.8zM205.5 48.3h0.8v0.8h-0.8zM179.9 55.7h0.8v0.8h-0.8zM189.7 59.9h0.8v0.8h-0.8zM201.7 60.5h0.8v0.8h-0.8zM199.3 60.6h0.8v0.8h-0.8zM179.6 56.1h0.8v0.8h-0.8zM177.8 59.9h0.8v0.8h-0.8zM230.0 58.1h0.8v0.8h-0.8zM205.9 59.8h0.8v0.8h-0.8zM212.7 49.4h0.8v0.8h-0.8zM205.0 57.9h0.8v0.8h-0.8zM213.0 57.3h0.8v0.8h-0.8zM209.0 58.1h0.8v0.8h-0.8zM181.0 51.3h0.8v0.8h-0.8zM186.8 56.8h0.8v0.8h-0.8zM189.8 54.4h0.8v0.8h-0.8zM196.9 50.3h0.8v0.8h-0.8zM180.8 58.6h0.8v0.8h-0.8zM217.6 49.3h0.8v0.8h-0.8zM202.9 56.8h0.8v0.8h-0.8zM214.1 53.7h0.8v0.8h-0.8zM189.6 55.3h0.8v0.8h-0.8zM200.5 58.6h0.8v0.8h-0.8zM199.3 55.3h0.8v0.8h-0.8zM217.2 51.6h0.8v0.8h-0.8zM183.8 52.8h0.8v0.8h-0.8zM189.0 58.1h0.8v0.8h-0.8zM178.8 63.3h0.8v0.8h-0.8zM184.3 55.0h0.8v0.8h-0.8zM181.1 61.8h0.8v0.8h-0.8zM208.8 60.3h0.8v0.8h-0.8zM196.4 54.5h0.8v0.8h-0.8zM215.5 57.3h0.8v0.8h-0.8zM177.8 64.8h0.8v0.8h-0.8zM214.0 57.3h0.8v0.8h-0.8zM222.8 58.3h0.8v0.8h-0.8zM211.7 52.4h0.8v0.8h-0.8zM187.6 47.7h0.8v0.8h-0.8zM190.9 59.5h0.8v0.8h-0.8zM223.5 50.1h0.8v0.8h-0.8zM209.2 55.6h0.8v0.8h-0.8zM206.2 56.2h0.8v0.8h-0.8zM180.7 62.0h0.8v0.8h-0.8zM189.4 57.4h0.8v0.8h-0.8zM191.4 54.2h0.8v0.8h-0.8zM177.9 49.2h0.8v0.8h-0.8zM185.0 54.1h0.8v0.8h-0.8zM195.2 53.0h0.8v0.8h-0.8zM199.8 55.5h0.8v0.8h-0.8zM203.1 55.7h0.8v0.8h-0.8zM181.4 60.7h0.8v0.8h-0.8zM185.7 62.8h0.8v0.8h-0.8zM220.3 58.1h0.8v0.8h-0.8zM195.6 53.9h0.8v0.8h-0.8zM179.6 60.1h0.8v0.8h-0.8zM185.3 56.8h0.8v0.8h-0.8zM220.6 51.4h0.8v0.8h-0.8zM182.0 56.9h0.8v0.8h-0.8zM215.7 53.8h0.8v0.8h-0.8zM181.9 56.5h0.8v0.8h-0.8zM184.4 54.0h0.8v0.8h-0.8zM187.4 56.1h0.8v0.8h-0.8zM211.7 54.4h0.8v0.8h-0.8zM190.1 57.0h0.8v0.8h-0.8zM206.1 59.8h0.8v0.8h-0.8zM192.8 52.9h0.8v0.8h-0.8zM210.6 50.6h0.8v0.8h-0.8zM193.9 55.0h0.8v0.8h-0.8zM185.5 55.5h0.8v0.8h-0.8zM189.2 58.4h0.8v0.8h-0.8zM216.2 47.8h0.8v0.8h-0.8zM194.2 56.4h0.8v0.8h-0.8zM210.3 54.0h0.8v0.8h-0.8z" fill="#3c3c3c" stroke="none"/>
<path d="M153.5 39h1v1h-1z" fill="#888"/>
<text class="t" transform="translate(20.1,89.9) rotate(-90)" style="font-size:15.2px">CD8</text>
<text class="t" x="66.6" y="146" style="font-size:15.2px">IFN-<tspan style="font-size:14.5px">γ</tspan></text>
<path class="ln" stroke-width="2" d="M15.6 112V141.5H44"/>
<path d="M15.6 101.5 L20.5 115.4 L10.7 115.4Z" fill="#000"/>
<path d="M56 141.5 L40.4 136.7 L40.4 146.3Z" fill="#000"/>
<text class="b" transform="translate(281.2,19) scale(0.965,1)">B</text>
<g class="ln" stroke-width="1.5">
<path d="M370.8 7.7V137H442"/>
<line x1="365.2" y1="137.00" x2="370.8" y2="137.00"/>
<line x1="365.2" y1="118.54" x2="370.8" y2="118.54"/>
<line x1="365.2" y1="100.08" x2="370.8" y2="100.08"/>
<line x1="365.2" y1="81.62" x2="370.8" y2="81.62"/>
<line x1="365.2" y1="63.16" x2="370.8" y2="63.16"/>
<line x1="365.2" y1="44.70" x2="370.8" y2="44.70"/>
<line x1="365.2" y1="26.24" x2="370.8" y2="26.24"/>
<line x1="365.2" y1="7.78" x2="370.8" y2="7.78"/>
</g>
<text class="t" x="363.3" y="141.60" text-anchor="end" style="font-size:15px">0</text>
<text class="t" x="363.3" y="123.14" text-anchor="end" style="font-size:15px">10</text>
<text class="t" x="363.3" y="104.68" text-anchor="end" style="font-size:15px">20</text>
<text class="t" x="363.3" y="86.22" text-anchor="end" style="font-size:15px">30</text>
<text class="t" x="363.3" y="67.76" text-anchor="end" style="font-size:15px">40</text>
<text class="t" x="363.3" y="49.30" text-anchor="end" style="font-size:15px">50</text>
<text class="t" x="363.3" y="30.84" text-anchor="end" style="font-size:15px">60</text>
<text class="t" x="363.3" y="12.38" text-anchor="end" style="font-size:15px">70</text>
<text class="t" transform="translate(335.8,123.6) rotate(-90)" style="font-size:14.8px">% K<tspan style="font-size:7.8px" dy="-5.5">b</tspan><tspan dy="5.5">-specific kill</tspan></text>
<rect class="g" stroke-width="1.8" x="379.35" y="101" width="27.5" height="36"/>
<rect class="k" stroke-width="1" x="413.3" y="34.9" width="28.7" height="102.3"/>
<path class="ln" stroke-width="1.7" d="M393.5 100V83.3M386.6 83.3H400.2"/>
<path class="ln" stroke-width="1.7" d="M427.8 34.5V17.9M420.8 17.9H434.5"/>
<line class="ln" stroke-width="1.7" x1="392.9" y1="13.4" x2="427.9" y2="13.4"/>
<text x="410.5" y="13.5" style="font-size:11px" text-anchor="middle" font-weight="bold">*</text>
<rect class="g" stroke-width="1.4" x="446.10" y="0.30" width="12.00" height="11.30"/>
<rect x="445.40" y="17.20" width="13.40" height="12.80" fill="#000" stroke="none"/>
<text class="t" x="461.80" y="12.00" style="font-size:15.0px">Tolerant</text>
<text class="t" x="461.80" y="28.90" style="font-size:15.0px">Reactive</text>
<text class="b" transform="translate(4.0,193.8) scale(0.965,1)">C</text>
<g class="ln" stroke-width="1.5">
<path d="M49.3 205.2V383.85H247.56"/>
<line x1="43.4" y1="383.85" x2="49.3" y2="383.85"/>
<line x1="43.4" y1="341.37" x2="49.3" y2="341.37"/>
<line x1="43.4" y1="298.88" x2="49.3" y2="298.88"/>
<line x1="43.4" y1="256.40" x2="49.3" y2="256.40"/>
<line x1="43.4" y1="213.91" x2="49.3" y2="213.91"/>
</g>
<text class="t" x="41.9" y="388.55" text-anchor="end" style="font-size:14.8px">0</text>
<text class="t" x="41.9" y="346.06" text-anchor="end" style="font-size:14.8px">50</text>
<text class="t" x="41.9" y="303.58" text-anchor="end" style="font-size:14.8px">100</text>
<text class="t" x="41.9" y="261.10" text-anchor="end" style="font-size:14.8px">150</text>
<text class="t" x="41.9" y="218.61" text-anchor="end" style="font-size:14.8px">200</text>
<text class="t" x="48.60" y="404.7" text-anchor="middle" style="font-size:14.8px">0</text>
<text class="t" x="70.64" y="404.7" text-anchor="middle" style="font-size:14.8px">2</text>
<text class="t" x="92.68" y="404.7" text-anchor="middle" style="font-size:14.8px">4</text>
<text class="t" x="114.72" y="404.7" text-anchor="middle" style="font-size:14.8px">6</text>
<text class="t" x="136.76" y="404.7" text-anchor="middle" style="font-size:14.8px">8</text>
<text class="t" x="159.20" y="404.7" text-anchor="middle" style="font-size:14.8px">10</text>
<text class="t" x="181.24" y="404.7" text-anchor="middle" style="font-size:14.8px">12</text>
<text class="t" x="203.28" y="404.7" text-anchor="middle" style="font-size:14.8px">14</text>
<text class="t" x="225.32" y="404.7" text-anchor="middle" style="font-size:14.8px">16</text>
<text class="t" x="247.36" y="404.7" text-anchor="middle" style="font-size:14.8px">18</text>
<text class="t" x="56" y="421.2" style="font-size:15.2px">Days after tumor inoculation</text>
<text class="t" transform="translate(11.5,350.8) rotate(-90)" style="font-size:14.4px">Tumor area (mm<tspan style="font-size:7.8px" dy="-5.5">2</tspan><tspan dy="5.5">)</tspan></text>
<rect class="g" stroke-width="1.4" x="53.20" y="205.90" width="11.40" height="11.30"/>
<rect x="52.50" y="222.60" width="12.80" height="12.60" fill="#000" stroke="none"/>
<text class="t" x="67.30" y="217.30" style="font-size:15.1px">Tolerant</text>
<text class="t" x="67.30" y="234.20" style="font-size:15.1px">Reactive</text>
<path class="ln" stroke-width="1.6" stroke-linejoin="round" stroke-dasharray="6 2.5" d="M137.4 383.9L159.4 360.1L181.4 340.5L203.5 315.0L225.5 256.4L239.6 236.5L245.3 220.2"/>
<path class="ln" stroke-width="1.7" stroke-linejoin="round" stroke-dasharray="1.3 1.1" d="M137.4 383.9L159.4 360.1L181.4 340.5L203.5 321.0L225.5 273.4L240.2 240.0L245.5 220.0"/>
<path class="ln" stroke-width="1.5" stroke-linejoin="round"  d="M137.4 383.9L159.4 366.9L181.4 346.5L203.5 327.8L225.5 300.6L241.6 246.0L245.6 220.0"/>
<path class="ln" stroke-width="1.5" stroke-linejoin="round" stroke-dasharray="5 1.5 1.3 1.5" d="M137.4 383.9L159.4 366.9L181.4 346.5L203.5 333.7L225.5 315.0L242.6 246.0L245.8 220.5"/>
<path class="ln" stroke-width="1.5" stroke-linejoin="round"  d="M137.4 383.9L159.4 375.4L181.4 353.3L203.5 343.1L225.5 315.0L243.6 246.5L246.0 221.0"/>
<rect class="g" fill="#b6b6b6" style="fill:#b6b6b6" stroke-width="1.45" x="67.59" y="380.20" width="7.3" height="7.3"/>
<rect class="g" fill="#b6b6b6" style="fill:#b6b6b6" stroke-width="1.45" x="89.63" y="380.20" width="7.3" height="7.3"/>
<rect class="g" fill="#b6b6b6" style="fill:#b6b6b6" stroke-width="1.45" x="111.67" y="380.20" width="7.3" height="7.3"/>
<rect class="g" fill="#b6b6b6" style="fill:#b6b6b6" stroke-width="1.45" x="133.71" y="380.20" width="7.3" height="7.3"/>
<rect class="g" fill="#b6b6b6" style="fill:#b6b6b6" stroke-width="1.45" x="155.75" y="371.70" width="7.3" height="7.3"/>
<rect class="g" fill="#b6b6b6" style="fill:#b6b6b6" stroke-width="1.45" x="155.75" y="363.21" width="7.3" height="7.3"/>
<rect class="g" fill="#b6b6b6" style="fill:#b6b6b6" stroke-width="1.45" x="155.75" y="356.41" width="7.3" height="7.3"/>
<rect class="g" fill="#b6b6b6" style="fill:#b6b6b6" stroke-width="1.45" x="177.79" y="349.61" width="7.3" height="7.3"/>
<rect class="g" fill="#b6b6b6" style="fill:#b6b6b6" stroke-width="1.45" x="177.79" y="342.81" width="7.3" height="7.3"/>
<rect class="g" fill="#b6b6b6" style="fill:#b6b6b6" stroke-width="1.45" x="177.79" y="336.87" width="7.3" height="7.3"/>
<rect class="g" fill="#b6b6b6" style="fill:#b6b6b6" stroke-width="1.45" x="199.83" y="339.41" width="7.3" height="7.3"/>
<rect class="g" fill="#b6b6b6" style="fill:#b6b6b6" stroke-width="1.45" x="199.83" y="330.07" width="7.3" height="7.3"/>
<rect class="g" fill="#b6b6b6" style="fill:#b6b6b6" stroke-width="1.45" x="199.83" y="324.12" width="7.3" height="7.3"/>
<rect class="g" fill="#b6b6b6" style="fill:#b6b6b6" stroke-width="1.45" x="199.83" y="317.32" width="7.3" height="7.3"/>
<rect class="g" fill="#b6b6b6" style="fill:#b6b6b6" stroke-width="1.45" x="199.83" y="311.37" width="7.3" height="7.3"/>
<rect class="g" fill="#b6b6b6" style="fill:#b6b6b6" stroke-width="1.45" x="221.87" y="311.37" width="7.3" height="7.3"/>
<rect class="g" fill="#b6b6b6" style="fill:#b6b6b6" stroke-width="1.45" x="221.87" y="296.93" width="7.3" height="7.3"/>
<rect class="g" fill="#b6b6b6" style="fill:#b6b6b6" stroke-width="1.45" x="221.87" y="269.74" width="7.3" height="7.3"/>
<rect class="g" fill="#b6b6b6" style="fill:#b6b6b6" stroke-width="1.45" x="221.87" y="252.75" width="7.3" height="7.3"/>
<rect fill="#000" x="155.10" y="378.85" width="8.8" height="9.6"/>
<rect fill="#000" x="177.14" y="378.85" width="8.8" height="9.6"/>
<rect fill="#000" x="199.18" y="378.85" width="8.8" height="9.6"/>
<rect fill="#000" x="221.22" y="378.85" width="8.8" height="9.6"/>
<rect fill="#000" x="243.26" y="378.85" width="8.8" height="9.6"/>
<text class="t" transform="translate(253.4,230.0) scale(0.62,1)" text-anchor="middle" style="font-size:16px">†</text>
<text class="b" transform="translate(281.2,193.8) scale(0.965,1)">D</text>
<g class="ln" stroke-width="1.5">
<path d="M348.8 205.10V380.80H490.2"/>
<line x1="343.2" y1="380.80" x2="348.8" y2="380.80"/>
<line x1="343.2" y1="355.70" x2="348.8" y2="355.70"/>
<line x1="343.2" y1="330.60" x2="348.8" y2="330.60"/>
<line x1="343.2" y1="305.50" x2="348.8" y2="305.50"/>
<line x1="343.2" y1="280.40" x2="348.8" y2="280.40"/>
<line x1="343.2" y1="255.30" x2="348.8" y2="255.30"/>
<line x1="343.2" y1="230.20" x2="348.8" y2="230.20"/>
<line x1="343.2" y1="205.10" x2="348.8" y2="205.10"/>
</g>
<text class="t" x="340.8" y="385.10" text-anchor="end" style="font-size:15.3px">0</text>
<text class="t" x="340.8" y="360.00" text-anchor="end" style="font-size:15.3px">1</text>
<text class="t" x="340.8" y="334.90" text-anchor="end" style="font-size:15.3px">2</text>
<text class="t" x="340.8" y="309.80" text-anchor="end" style="font-size:15.3px">3</text>
<text class="t" x="340.8" y="284.70" text-anchor="end" style="font-size:15.3px">4</text>
<text class="t" x="340.8" y="259.60" text-anchor="end" style="font-size:15.3px">5</text>
<text class="t" x="340.8" y="234.50" text-anchor="end" style="font-size:15.3px">6</text>
<text class="t" x="340.8" y="209.40" text-anchor="end" style="font-size:15.3px">7</text>
<text class="t" transform="translate(297.6,357.8) rotate(-90)" style="font-size:15.5px"><tspan style="font-size:8.5px" dy="-5">3</tspan><tspan dy="5">H-thy incorporation</tspan></text>
<text class="t" transform="translate(316.6,333.2) rotate(-90)" style="font-size:15.3px">(x10<tspan style="font-size:8.5px" dy="-4.5">3</tspan><tspan dy="4.5"> c.p.m.)</tspan></text>
<rect class="g" stroke-width="1.6" x="356.30" y="295.46" width="16.20" height="85.34"/>
<rect class="k" stroke-width="1" x="372.50" y="318.05" width="18.30" height="62.75"/>
<path class="ln" stroke-width="1.6" d="M364.40 295.46V265.34M359.90 265.34H368.90"/>
<path class="ln" stroke-width="1.6" d="M381.65 318.05V294.71M376.95 294.71H386.35"/>
<rect class="g" stroke-width="1.6" x="404.80" y="306.00" width="16.80" height="74.80"/>
<rect class="k" stroke-width="1" x="421.60" y="285.42" width="18.90" height="95.38"/>
<path class="ln" stroke-width="1.6" d="M413.20 306.00V265.34M408.70 265.34H417.70"/>
<path class="ln" stroke-width="1.6" d="M431.05 285.42V226.94M426.35 226.94H435.75"/>
<rect class="g" stroke-width="1.6" x="454.40" y="305.50" width="16.90" height="75.30"/>
<rect class="k" stroke-width="1" x="471.30" y="325.08" width="18.50" height="55.72"/>
<path class="ln" stroke-width="1.6" d="M462.85 305.50V302.49M458.35 302.49H467.35"/>
<path class="ln" stroke-width="1.6" d="M480.55 325.08V313.03M475.85 313.03H485.25"/>
<text class="t" x="352.8" y="396.3" style="font-size:15.2px"><tspan style="font-size:16.8px">α</tspan>CD3</text>
<text class="t" x="399.8" y="396.3" style="font-size:15.2px"><tspan style="font-size:16.8px">α</tspan>CD3/</text>
<text class="t" x="398.2" y="410.4" style="font-size:15.2px"><tspan style="font-size:16.8px">α</tspan>CD28</text>
<text class="t" x="462" y="396.3" style="font-size:15.2px">B6</text>
<rect class="g" stroke-width="1.4" x="446.70" y="206.50" width="11.60" height="10.60"/>
<rect x="446.00" y="222.20" width="13.00" height="13.00" fill="#000" stroke="none"/>
<text class="t" x="461.20" y="217.20" style="font-size:15.2px">Tolerant</text>
<text class="t" x="461.20" y="233.80" style="font-size:15.2px">Reactive</text>
</svg></body></html>
